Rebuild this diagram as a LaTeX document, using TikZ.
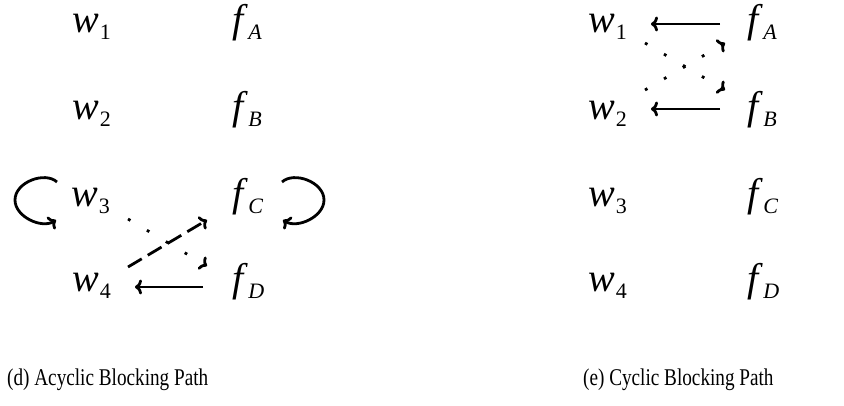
\documentclass[tikz,border=0pt]{standalone}
\usepackage{fontspec}
\usepackage{graphicx}
\setmainfont{Liberation Serif}
\usetikzlibrary{arrows.meta}
\newcommand\vw[1]{{\fontsize{40}{42}\selectfont\textit{w}\kern1pt\raisebox{-7pt}{\fontsize{22}{24}\selectfont #1}}}
\newcommand\vf[1]{{\fontsize{40}{42}\selectfont\textit{f}\kern0.5pt\raisebox{-7pt}{\fontsize{22}{24}\selectfont\textit{#1}}}}
\newcommand\captxt[1]{\scalebox{0.8}[1]{\fontsize{24}{26}\selectfont #1}}
\begin{document}
\begin{tikzpicture}[x=1pt,y=-1pt,
  var/.style={inner sep=0pt,anchor=base west},
  captext/.style={inner sep=0pt,anchor=base west},
  conn/.style={line width=2.8pt,-{To[length=7pt,width=15pt]}},
  dotline/.style={conn,dash pattern=on 2.8pt off 19.2pt},
  dashline/.style={conn,dash pattern=on 16pt off 7pt}]
\useasboundingbox (0,0) rectangle (844,406);
% left panel
\node[var] (lw1) at (72,33) {\vw{1}};
\node[var] (lfA) at (232,33) {\vf{A}};
\node[var] (lw2) at (72,120) {\vw{2}};
\node[var] (lfB) at (232,120) {\vf{B}};
\node[var] (lw3) at (71,207) {\vw{3}};
\node[var] (lfC) at (232,207) {\vf{C}};
\node[var] (lw4) at (72,292) {\vw{4}};
\node[var] (lfD) at (232,292) {\vf{D}};
% right panel
\node[var] (rw1) at (588,33) {\vw{1}};
\node[var] (rfA) at (747,33) {\vf{A}};
\node[var] (rw2) at (588,120) {\vw{2}};
\node[var] (rfB) at (747,120) {\vf{B}};
\node[var] (rw3) at (588,207) {\vw{3}};
\node[var] (rfC) at (747,207) {\vf{C}};
\node[var] (rw4) at (588,292) {\vw{4}};
\node[var] (rfD) at (747,292) {\vf{D}};
% captions
\node[captext] (capd) at (7,385) {\captxt{(d) Acyclic Blocking Path}};
\node[captext] (cape) at (583,385) {\captxt{(e) Cyclic Blocking Path}};
% left self loops
\coordinate (l3a) at ([shift={(-14,-25)}]lw3.base west);
\coordinate (l3m) at ([shift={(-56,-7)}]lw3.base west);
\coordinate (l3b) at ([shift={(-15,13)}]lw3.base west);
\draw[conn] (l3a) .. controls ([shift={(-12,-11)}]l3a) and ([shift={(0,-18)}]l3m) .. (l3m)
  .. controls ([shift={(0,17)}]l3m) and ([shift={(-14,9)}]l3b) .. (l3b);
\coordinate (lCa) at ([shift={(50,-25)}]lfC.base west);
\coordinate (lCm) at ([shift={(92,-7)}]lfC.base west);
\coordinate (lCb) at ([shift={(51,13)}]lfC.base west);
\draw[conn] (lCa) .. controls ([shift={(12,-11)}]lCa) and ([shift={(0,-18)}]lCm) .. (lCm)
  .. controls ([shift={(0,17)}]lCm) and ([shift={(14,9)}]lCb) .. (lCb);
% left crossing connectors
\draw[dotline] ([shift={(57,12)}]lw3.base west) -- ([shift={(-25,-26)}]lfD.base west);
\draw[dashline] ([shift={(56,-25)}]lw4.base west) -- ([shift={(-25,13)}]lfC.base west);
\draw[conn] ([shift={(-29,-5)}]lfD.base west) -- ([shift={(63,-5)}]lw4.base west);
% right connectors
\draw[conn] ([shift={(-27,-9)}]rfA.base west) -- ([shift={(63,-9)}]rw1.base west);
\draw[conn] ([shift={(-27,-11)}]rfB.base west) -- ([shift={(63,-11)}]rw2.base west);
\draw[dotline] ([shift={(57,10)}]rw1.base west) -- ([shift={(-22,-30)}]rfB.base west);
\draw[dotline] ([shift={(57,-30)}]rw2.base west) -- ([shift={(-22,10)}]rfA.base west);
\end{tikzpicture}
\end{document}
